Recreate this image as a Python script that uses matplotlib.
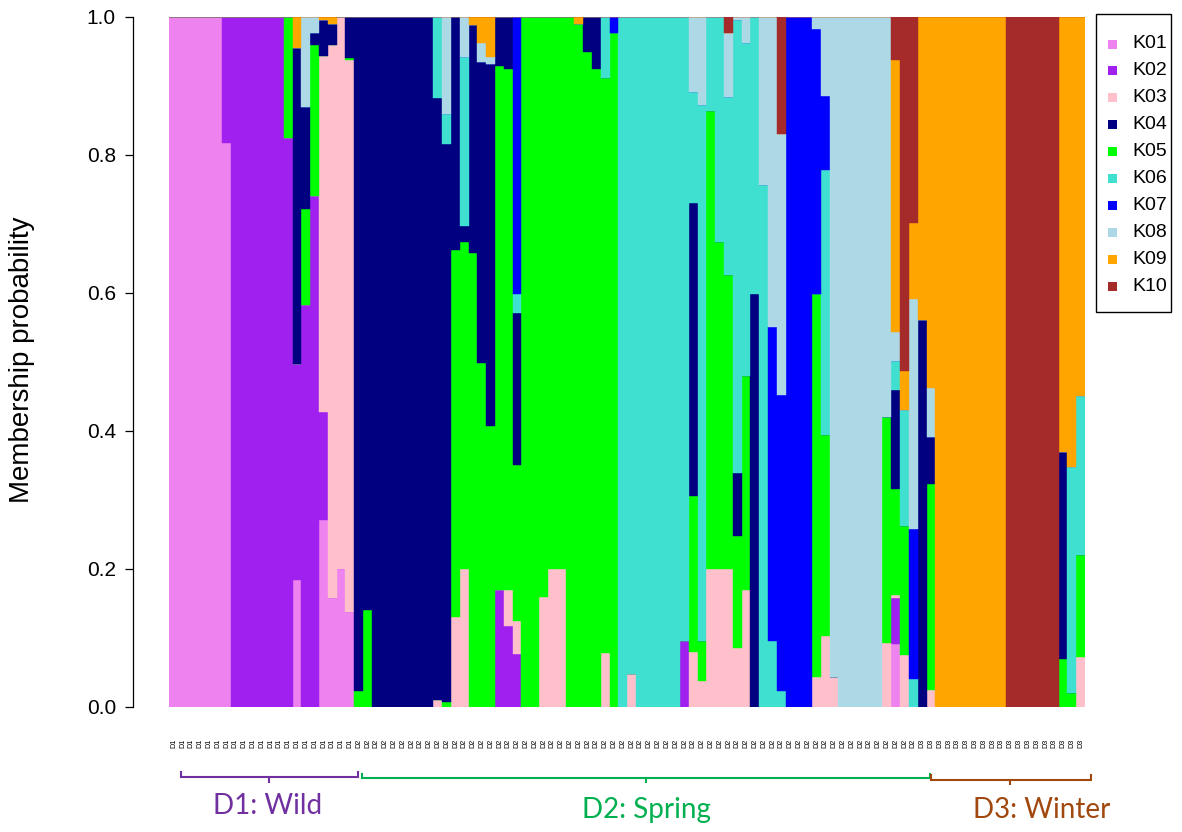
import matplotlib
matplotlib.use("Agg")
import matplotlib.pyplot as plt
import numpy as np
from matplotlib.patches import Rectangle

# ---------------------------------------------------------------------------
# Membership probabilities per individual (D1: 21, D2: 64, D3: 19 individuals)
# ---------------------------------------------------------------------------
K01 = [
    1, 1, 1, 1, 1, 1, .818, 0, 0, 0, 0, 0, 0, 0, .184, 0, 0, .271, .158, .200, .138,
    0, 0, 0, 0, 0, 0, 0, 0, 0, 0, 0, 0, 0, 0, 0, 0,
    0, 0, 0, 0, 0, 0, 0, 0, 0, 0, 0, 0, 0, 0, 0, 0,
    0, 0, 0, 0, 0, 0, 0, 0, 0, 0, 0, 0, 0, 0, 0, 0,
    0, 0, 0, 0, 0, 0, 0, 0, 0, 0, 0, 0, 0, .091, 0, 0,
    0, 0, 0, 0, 0, 0, 0, 0, 0, 0, 0, 0, 0, 0, 0, 0, 0, 0, 0,
]
K02 = [
    0, 0, 0, 0, 0, 0, .182, 1, 1, 1, 1, 1, 1, .824, .313, .582, .740, .156, 0, 0, 0,
    0, 0, 0, 0, 0, 0, 0, 0, 0, 0, 0, 0, 0, 0, 0, 0,
    .169, .117, .077, 0, 0, 0, 0, 0, 0, 0, 0, 0, 0, 0, 0, 0,
    0, 0, 0, 0, 0, .096, 0, 0, 0, 0, 0, 0, 0, 0, 0, 0,
    0, 0, 0, 0, 0, 0, 0, 0, 0, 0, 0, 0, 0, .067, 0, 0,
    0, 0, 0, 0, 0, 0, 0, 0, 0, 0, 0, 0, 0, 0, 0, 0, 0, 0, 0,
]
K03 = [
    0, 0, 0, 0, 0, 0, 0, 0, 0, 0, 0, 0, 0, 0, 0, 0, 0, .516, .801, .800, .799,
    0, 0, 0, 0, 0, 0, 0, 0, 0, .010, 0, .131, .200, 0, 0, 0,
    0, .052, .048, 0, 0, .159, .200, .200, 0, 0, 0, 0, .078, 0, 0, .048,
    0, 0, 0, 0, 0, 0, .080, .038, .200, .200, .200, .086, .169, 0, 0, 0,
    0, 0, 0, 0, .043, .103, .043, 0, 0, 0, 0, 0, .093, .005, .076, 0,
    0, .025, 0, 0, 0, 0, 0, 0, 0, 0, 0, 0, 0, 0, 0, 0, 0, 0, .073,
]
K04 = [
    0, 0, 0, 0, 0, 0, 0, 0, 0, 0, 0, 0, 0, 0, .458, .147, .018, .052, .031, 0, .060,
    .977, .859, 1, 1, 1, 1, 1, 1, 1, .872, .809, .338, .023, .331, .436, .525,
    .071, .075, .220, 0, 0, 0, 0, 0, 0, 0, .051, .075, 0, 0, 0, 0,
    0, 0, 0, 0, 0, 0, .424, 0, 0, 0, 0, .091, 0, .599, 0, 0,
    0, 0, 0, 0, 0, 0, 0, 0, 0, 0, 0, 0, 0, .143, 0, 0,
    .561, .068, 0, 0, 0, 0, 0, 0, 0, 0, 0, 0, 0, 0, 0, 0, .299, 0, 0,
]
K05 = [
    0, 0, 0, 0, 0, 0, 0, 0, 0, 0, 0, 0, 0, .176, 0, .140, .219, 0, 0, 0, .003,
    .023, .141, 0, 0, 0, 0, 0, 0, 0, 0, .007, .531, .474, .658, .499, .407,
    .760, .756, .226, 1, 1, .841, .800, .800, 1, .990, .949, .925, .834, .977, 0, 0,
    0, 0, 0, 0, 0, 0, .226, .058, .664, .474, .426, .162, .310, 0, 0, 0,
    0, 0, 0, 0, .556, .291, 0, 0, 0, 0, 0, 0, .328, .153, .187, 0,
    0, .298, 0, 0, 0, 0, 0, 0, 0, 0, 0, 0, 0, 0, 0, 0, .070, .020, .147,
]
K06 = [
    0, 0, 0, 0, 0, 0, 0, 0, 0, 0, 0, 0, 0, 0, 0, 0, 0, 0, 0, 0, 0,
    0, 0, 0, 0, 0, 0, 0, 0, 0, .118, .043, 0, .245, 0, 0, 0,
    0, 0, .028, 0, 0, 0, 0, 0, 0, 0, 0, 0, .088, 0, 1, .952,
    1, 1, 1, 1, 1, .904, .162, .776, .136, .326, .258, .656, .483, .401, .757, .095,
    .023, 0, 0, 0, 0, .384, 0, 0, 0, 0, 0, 0, 0, .043, .168, .040,
    0, 0, 0, 0, 0, 0, 0, 0, 0, 0, 0, 0, 0, 0, 0, 0, 0, .328, .231,
]
K07 = [
    0, 0, 0, 0, 0, 0, 0, 0, 0, 0, 0, 0, 0, 0, 0, 0, 0, 0, 0, 0, 0,
    0, 0, 0, 0, 0, 0, 0, 0, 0, 0, 0, 0, 0, 0, 0, 0,
    0, 0, .401, 0, 0, 0, 0, 0, 0, 0, 0, 0, 0, .023, 0, 0,
    0, 0, 0, 0, 0, 0, 0, 0, 0, 0, 0, 0, 0, 0, 0, .456,
    .429, 1, 1, 1, .383, .107, 0, 0, 0, 0, 0, 0, 0, 0, 0, .218,
    0, 0, 0, 0, 0, 0, 0, 0, 0, 0, 0, 0, 0, 0, 0, 0, 0, 0, 0,
]
K08 = [
    0, 0, 0, 0, 0, 0, 0, 0, 0, 0, 0, 0, 0, 0, 0, .131, .023, 0, 0, 0, 0,
    0, 0, 0, 0, 0, 0, 0, 0, 0, 0, .141, 0, .058, 0, .027, .010,
    0, 0, 0, 0, 0, 0, 0, 0, 0, 0, 0, 0, 0, 0, 0, 0,
    0, 0, 0, 0, 0, 0, .108, .128, 0, 0, .093, .005, .038, 0, .243, .449,
    .378, 0, 0, 0, .018, .115, .957, 1, 1, 1, 1, 1, .579, .042, 0, .333,
    0, .071, 0, 0, 0, 0, 0, 0, 0, 0, 0, 0, 0, 0, 0, 0, 0, 0, 0,
]
K09 = [
    0, 0, 0, 0, 0, 0, 0, 0, 0, 0, 0, 0, 0, 0, .045, 0, 0, .005, .010, 0, 0,
    0, 0, 0, 0, 0, 0, 0, 0, 0, 0, 0, 0, 0, .011, .038, .058,
    0, 0, 0, 0, 0, 0, 0, 0, 0, .010, 0, 0, 0, 0, 0, 0,
    0, 0, 0, 0, 0, 0, 0, 0, 0, 0, 0, 0, 0, 0, 0, 0,
    0, 0, 0, 0, 0, 0, 0, 0, 0, 0, 0, 0, 0, .393, .056, .111,
    .439, .538, 1, 1, 1, 1, 1, 1, 1, 1, 0, 0, 0, 0, 0, 0, .631, .652, .549,
]
K10 = [
    0, 0, 0, 0, 0, 0, 0, 0, 0, 0, 0, 0, 0, 0, 0, 0, 0, 0, 0, 0, 0,
    0, 0, 0, 0, 0, 0, 0, 0, 0, 0, 0, 0, 0, 0, 0, 0,
    0, 0, 0, 0, 0, 0, 0, 0, 0, 0, 0, 0, 0, 0, 0, 0,
    0, 0, 0, 0, 0, 0, 0, 0, 0, 0, .023, 0, 0, 0, 0, 0,
    .170, 0, 0, 0, 0, 0, 0, 0, 0, 0, 0, 0, 0, .063, .513, .298,
    0, 0, 0, 0, 0, 0, 0, 0, 0, 0, 1, 1, 1, 1, 1, 1, 0, 0, 0,
]

populations = ["D1", "D2", "D3"]
pop_sizes = [21, 64, 19]
pop_titles = ["D1: Wild", "D2: Spring", "D3: Winter"]

cluster_names = ["K01", "K02", "K03", "K04", "K05", "K06", "K07", "K08", "K09", "K10"]
cluster_values = [K01, K02, K03, K04, K05, K06, K07, K08, K09, K10]
cluster_colors = ["#EE82EE", "#A020F0", "#FFC0CB", "#000080", "#00FF00",
                  "#40E0D0", "#0000FF", "#ADD8E6", "#FFA500", "#A52A2A"]
# order in which the segments are piled up, bottom to top
stack_order = ["K01", "K02", "K03", "K05", "K04", "K06", "K07", "K08", "K09", "K10"]

ind_labels = [p for p, n in zip(populations, pop_sizes) for _ in range(n)]

# ---------------------------------------------------------------------------
W, H = 1182, 832
fig = plt.figure(figsize=(W / 100, H / 100), dpi=100)
base_font = "Liberation Sans"
note_font = "Lato"

ax = fig.add_axes([169.3 / W, 1 - 707 / H, 915.7 / W, 690 / H])
n_ind = len(ind_labels)
x = np.arange(n_ind)
bottom = np.zeros(n_ind)
for name in stack_order:
    i = cluster_names.index(name)
    vals = np.array(cluster_values[i], dtype=float)
    col = cluster_colors[i]
    ax.bar(x, vals, bottom=bottom, width=1.0, align="edge", color=col,
           edgecolor=col, linewidth=0.3)
    bottom += vals

ax.set_xlim(0, n_ind)
ax.set_ylim(0, 1)
for s in ("top", "right", "bottom"):
    ax.spines[s].set_visible(False)
ax.spines["left"].set_position(("outward", 26.4))
ax.spines["left"].set_bounds(0, 1)
ax.spines["left"].set_linewidth(0.9)

yt = [0.0, 0.2, 0.4, 0.6, 0.8, 1.0]
ax.set_yticks(yt)
ax.set_yticklabels([f"{v:.1f}" for v in yt], fontsize=15, family=base_font)
ax.tick_params(axis="y", length=6, width=0.9, pad=6)

# one narrow rotated label per individual, sized to fit its bar
ax.set_xticks(x + 0.5)
ax.set_xticklabels(ind_labels, rotation=90, fontsize=5.2, family=base_font,
                   va="top", ha="center")
ax.tick_params(axis="x", length=0, pad=23)

fig.text(22 / W, 1 - 360 / H, "Membership probability", rotation=90,
         ha="center", va="center", fontsize=20, family=base_font)

# ---------------------------------------------------------------------------
# overlay in pixel coordinates for the legend and population brackets
ov = fig.add_axes([0, 0, 1, 1], facecolor="none")
ov.set_xlim(0, W)
ov.set_ylim(H, 0)
ov.axis("off")

# legend
ov.add_patch(Rectangle((1096, 14), 75, 298, fill=False, edgecolor="black",
                       linewidth=1.0))
for k, (name, col) in enumerate(zip(cluster_names, cluster_colors)):
    yc = 44 + 26.9 * k
    ov.add_patch(Rectangle((1108, yc - 4.5), 9, 9, facecolor=col,
                           edgecolor="none"))
    ov.text(1132, yc, name, fontsize=14, family=base_font, va="center",
            ha="left")

# population brackets
brackets = [
    # x0, x1, y, y_end, xc, y_tick, colour
    (180.5, 358.0, 777.0, 771.5, 269.0, 782.0, "#7030A0"),
    (361.5, 930.0, 778.0, 774.0, 646.0, 782.0, "#00B050"),
    (930.5, 1091.0, 780.0, 775.0, 1010.0, 784.0, "#A0480E"),
]
text_pos = [(268, 806), (646, 810), (1042, 810)]
for (x0, x1, yb, ye, xc, yt_, col), title, (tx, ty) in zip(brackets, pop_titles, text_pos):
    ov.plot([x0, x0, x1, x1], [ye, yb, yb, ye], color=col, linewidth=1.5,
            solid_joinstyle="miter")
    ov.plot([xc, xc], [yb, yt_], color=col, linewidth=1.5)
    ov.text(tx, ty, title, color=col, fontsize=20, family=note_font,
            ha="center", va="center")

fig.savefig("out.png", dpi=100)
